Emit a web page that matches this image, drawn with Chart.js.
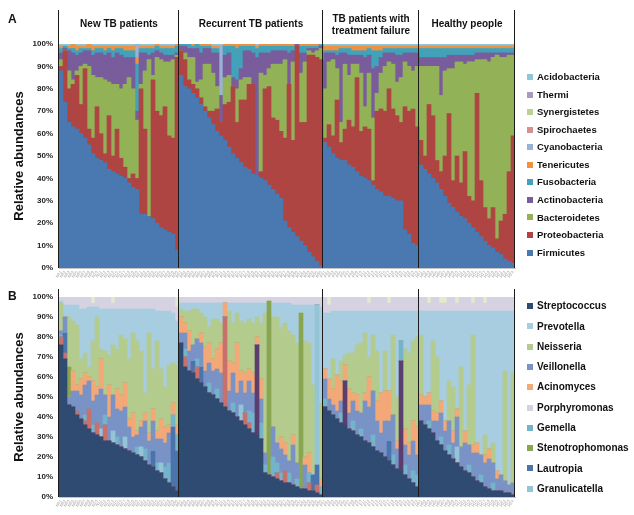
<!DOCTYPE html>
<html>
<head>
<meta charset="utf-8">
<script src="https://cdn.jsdelivr.net/npm/chart.js@4.4.1/dist/chart.umd.min.js"></script>
<style>
  html, body { margin: 0; padding: 0; background: #fff; }
  #wrap { position: relative; width: 634px; height: 515px; }
  canvas { position: absolute; left: 0; }
  #chartA { top: 0; }
  #chartB { top: 284px; }
</style>
</head>
<body>
<div id="wrap">
  <canvas id="chartA" width="634" height="284"></canvas>
  <canvas id="chartB" width="634" height="231"></canvas>
</div>
<script>
// sample groups (bars per group)
const groupNames = ['New TB patients', 'Recurrent TB patients', 'TB patients with\ntreatment failure', 'Healthy people'];
const groupSizes = [30, 36, 24, 24];
const groupCodes = ['N', 'R', 'F', 'H'];

// ---- panel A: phylum level (%), groups: new | recurrent | failure | healthy ----
const firmicutes = [
  88,74,65,63,62,60,58,55,51,49,48,47,44,43,42,41,40,38,36,35,24,24,23,22,20,18,17,16,15,8,
  86,81,80,78,76,73,70,67,64,61,59,57,54,51,49,47,45,44,42,41,40,39,37,35,33,31,21,18,16,14,12,10,7,5,3,1,
  56,54,51,49,48,48,46,45,43,41,40,39,37,35,34,32,32,31,30,30,17,15,11,10,
  46,44,42,40,38,35,32,29,27,25,23,22,20,18,16,14,12,10,9,7,6,4,3,2];
const proteobacteria = [
  2,23,15,19,24,13,31,7,7,23,12,4,24,7,20,8,5,2,6,5,56,38,0,62,50,50,55,43,43,86,
  11,12,4,4,4,3,2,3,6,10,6,16,20,30,16,28,30,38,40,0,3,41,44,32,33,30,37,64,41,85,53,55,88,90,91,92,
  2,10,8,26,8,14,20,18,42,20,23,23,2,35,37,38,48,40,38,35,55,55,60,53,
  11,6,31,28,10,8,18,40,12,25,15,30,12,12,62,25,15,12,18,6,15,20,40,57];
const bacteroidetes = [
  3,0,8,2,2,17,2,28,28,13,25,33,15,32,20,31,37,45,38,26,2,26,70,2,24,25,20,33,35,1,
  0,3,10,12,3,8,19,21,17,10,0,12,12,0,15,9,10,3,0,0,44,6,8,24,25,30,35,0,35,0,22,27,2,1,3,5,
  22,28,34,14,9,29,20,28,6,26,9,25,28,8,16,20,12,20,15,20,20,20,17,27,
  33,40,17,22,42,34,38,20,50,42,54,39,60,62,15,54,66,70,67,82,73,70,52,36];
const actinobacteria = [
  3,1,9,12,7,6,6,7,9,11,11,11,13,12,14,15,12,9,14,4,14,8,2,10,3,3,3,3,2,1,
  2,3,4,4,15,12,7,7,9,15,12,10,10,4,4,5,12,12,14,53,9,10,7,6,6,6,4,14,5,1,9,4,1,2,1,1,
  16,4,3,6,31,5,9,4,4,8,22,8,22,12,7,6,4,5,12,10,4,6,8,6,
  4,4,4,4,4,17,6,6,6,3,3,4,3,3,3,3,3,4,2,1,2,2,1,1];
const fusobacteria = [
  2,1,1,2,2,2,1,1,2,2,2,2,2,3,2,3,3,3,3,21,2,2,3,2,2,2,3,3,3,3,
  1,1,2,1,2,3,1,1,2,2,0,4,3,14,14,10,2,2,3,4,3,3,3,2,2,2,2,3,2,0,3,3,1,1,1,1,
  1,1,1,2,2,2,3,2,2,2,3,3,8,7,3,2,2,2,3,3,2,2,2,2,
  4,4,4,4,4,4,4,3,3,3,3,3,3,3,2,2,2,2,2,2,2,2,2,2];
const tenericutes = [
  1,0,1,2,2,1,1,2,2,1,1,2,1,2,1,1,2,2,2,3,1,1,1,1,1,1,1,1,1,1,
  0,0,0,1,0,1,1,1,1,1,0,1,1,1,2,1,1,1,1,1,1,1,1,1,1,1,1,1,1,0,1,1,1,1,1,0,
  2,2,2,2,1,1,1,2,2,2,2,1,2,2,2,1,1,1,1,1,1,1,1,1,
  1,1,1,1,1,1,1,1,1,1,1,1,1,1,1,1,1,1,1,1,1,1,1,1];
const cyanobacteria = [
  0,0,0,0,0,0,0,0,0,0,0,0,0,0,0,0,0,0,0,6,0,0,0,0,0,0,0,0,0,0,
  0,0,0,0,0,0,0,0,0,0,22,0,0,0,0,0,0,0,0,0,0,0,0,0,0,0,0,0,0,0,0,0,0,0,0,0,
  0,0,0,0,0,0,0,0,0,0,0,0,0,0,0,0,0,0,0,0,0,0,0,0,
  0,0,0,0,0,0,0,0,0,0,0,0,0,0,0,0,0,0,0,0,0,0,0,0];
const spirochaetes = [
  0,0,0,0,0,0,0,0,0,0,0,0,0,0,0,0,0,0,0,0,0,0,0,0,0,0,0,0,0,0,
  0,0,0,0,0,0,0,0,0,0,0,0,0,0,0,0,0,0,0,0,0,0,0,0,0,0,0,0,0,0,0,0,0,0,0,0,
  0,0,0,0,0,0,0,0,0,0,0,0,0,0,0,0,0,0,0,0,0,0,0,0,
  0,0,0,0,0,0,0,0,0,0,0,0,0,0,0,0,0,0,0,0,0,0,0,0];
const synergistetes = [
  0,0,0,0,0,0,0,0,0,0,0,0,0,0,0,0,0,0,0,0,0,0,0,0,0,0,0,0,0,0,
  0,0,0,0,0,0,0,0,0,0,0,0,0,0,0,0,0,0,0,0,0,0,0,0,0,0,0,0,0,0,0,0,0,0,0,0,
  0,0,0,0,0,0,0,0,0,0,0,0,0,0,0,0,0,0,0,0,0,0,0,0,
  0,0,0,0,0,0,0,0,0,0,0,0,0,0,0,0,0,0,0,0,0,0,0,0];
const thermi = [
  0,0,0,0,0,0,0,0,0,0,0,0,0,0,0,0,0,0,0,0,0,0,0,0,0,0,0,0,0,0,
  0,0,0,0,0,0,0,0,0,0,0,0,0,0,0,0,0,0,0,0,0,0,0,0,0,0,0,0,0,0,0,0,0,0,0,0,
  0,0,0,0,0,0,0,0,0,0,0,0,0,0,0,0,0,0,0,0,0,0,0,0,
  0,0,0,0,0,0,0,0,0,0,0,0,0,0,0,0,0,0,0,0,0,0,0,0];
const acidobacteria = [
  1,1,1,0,1,1,1,0,1,1,1,1,1,1,1,1,1,1,1,0,1,1,1,1,0,1,1,1,1,0,
  0,0,0,0,0,0,0,0,1,1,1,0,0,0,0,0,0,0,0,1,0,0,0,0,0,0,0,0,0,0,0,0,0,0,0,0,
  1,1,1,1,1,1,1,1,1,1,1,1,1,1,1,1,1,1,1,1,1,1,1,1,
  1,1,1,1,1,1,1,1,1,1,1,1,1,1,1,1,1,1,1,1,1,1,1,1];

// ---- panel B: genus level (%) ----
const streptococcus = [
  76,69,46,45,41,39,36,34,32,31,30,28,28,27,26,25,24,23,22,21,20,18,16,15,13,12,9,7,5,3,
  77,65,63,62,59,57,55,52,51,49,47,45,43,42,40,38,36,34,32,31,29,12,11,10,9,8,7,7,6,5,4,4,3,3,2,1,
  45,43,41,39,37,36,34,33,31,30,28,27,25,23,22,20,18,16,14,13,11,9,7,5,
  38,36,34,32,28,26,23,21,19,17,15,13,12,10,8,7,5,4,3,3,3,2,2,1];
const otherPurple = [
  0,0,0,0,0,0,0,0,0,0,0,0,0,0,0,0,0,0,0,0,0,0,0,0,0,0,0,0,0,0,
  0,0,0,0,0,0,0,0,0,0,0,0,0,0,0,0,0,0,0,45,0,0,0,0,0,0,0,0,0,0,0,0,0,0,0,0,
  0,0,0,0,0,22,0,0,0,0,0,0,0,0,0,0,0,0,0,55,0,0,0,0,
  0,0,0,0,0,0,0,0,0,0,0,0,0,0,0,0,0,0,0,0,0,0,0,0];
const otherRose = [
  4,3,0,0,2,0,2,10,0,6,0,8,0,0,0,0,0,0,0,0,0,0,0,0,0,0,0,0,0,0,
  0,5,0,0,6,0,0,0,0,0,0,45,0,0,0,0,6,3,0,0,0,0,0,0,3,0,6,0,0,0,0,0,4,0,4,0,
  0,0,0,0,0,0,0,0,0,0,0,0,0,0,0,0,0,0,0,0,0,0,0,0,
  0,0,0,0,0,0,0,0,0,0,0,0,0,0,0,0,0,0,0,0,0,0,0,0];
const lautropia = [
  0,10,0,0,0,0,0,0,0,0,0,0,0,0,0,0,0,0,0,0,0,0,0,8,0,0,0,0,30,20,
  0,0,0,6,0,8,0,0,0,0,0,0,0,0,0,0,0,0,0,0,0,0,0,0,0,0,0,0,0,0,0,0,0,8,10,0,
  0,0,0,0,0,0,0,0,0,0,0,0,0,0,0,0,10,0,0,0,0,0,0,0,
  0,0,0,0,0,0,0,0,0,0,0,0,0,0,0,0,0,0,0,0,0,0,0,0];
const granulicatella = [
  0,0,0,0,0,0,0,0,0,0,4,0,0,6,0,0,6,0,0,0,5,0,0,0,0,5,0,0,0,0,
  0,0,0,0,0,0,0,0,0,0,0,0,0,0,0,8,0,0,0,0,0,0,0,0,0,0,0,0,0,0,0,0,0,0,80,0,
  0,0,0,0,0,0,0,0,0,0,0,0,0,0,0,0,0,0,0,0,0,0,0,0,
  0,0,0,0,0,0,0,0,0,8,0,0,0,0,0,0,0,0,0,0,0,0,0,0];
const gemella = [
  1,0,0,0,0,0,3,0,4,0,0,5,0,0,4,0,0,0,0,4,0,6,0,0,4,0,6,10,6,8,
  0,4,0,0,4,0,0,5,0,5,0,0,0,5,0,0,0,6,10,0,8,4,0,10,5,4,0,5,0,4,0,0,5,0,0,4,
  4,0,0,0,5,0,0,5,0,4,0,0,6,0,0,0,0,5,0,10,5,0,6,6,
  0,0,4,0,0,4,0,5,0,0,0,0,4,0,0,4,0,0,4,0,0,0,0,0];
const veillonella = [
  2,8,4,8,10,12,15,14,12,14,20,10,12,18,14,18,15,12,8,6,10,14,12,15,12,12,12,15,0,0,
  5,8,10,8,10,12,8,10,12,10,15,0,10,15,12,12,10,15,10,0,12,6,0,15,10,12,8,6,20,8,0,12,0,0,0,0,
  10,6,5,4,6,0,8,10,12,8,20,18,22,15,10,18,10,20,10,0,10,12,15,10,
  8,10,8,6,10,12,10,12,8,15,10,14,10,12,14,10,12,15,10,6,8,6,4,6];
const acinomyces = [
  0,0,0,10,3,8,6,2,10,4,15,0,16,0,10,8,12,4,12,2,3,4,4,6,4,10,8,4,6,5,
  8,5,10,0,0,5,12,10,6,10,15,7,15,5,25,5,10,6,10,4,10,0,0,0,0,6,6,0,5,0,0,4,10,0,0,4,
  5,10,8,18,10,8,12,4,8,0,4,15,0,10,20,15,15,0,4,0,8,6,10,14,
  5,4,6,5,4,6,5,0,6,4,0,6,0,4,5,0,4,5,0,4,0,0,0,0];
const stenotrophomonas = [
  0,0,15,0,0,0,0,0,0,0,0,0,0,0,0,0,0,0,0,0,0,0,0,0,0,0,0,0,0,0,
  0,0,0,0,0,0,0,0,0,0,0,0,0,0,0,0,0,0,0,0,0,0,87,0,0,0,0,0,0,0,88,0,0,0,0,0,
  0,0,0,0,0,0,0,0,0,0,0,0,0,0,0,0,0,0,0,0,0,0,0,0,
  0,0,0,0,0,0,0,0,0,0,0,0,0,0,0,0,0,0,0,0,0,0,0,0];
const neisseria = [
  14,0,25,25,30,10,10,5,20,35,5,22,15,25,20,30,22,30,40,45,35,10,50,20,45,25,20,30,20,30,
  4,6,10,18,15,10,15,8,20,15,10,0,25,20,15,25,25,25,25,10,28,70,0,55,63,55,60,65,50,60,0,58,55,45,0,38,
  0,0,15,0,10,5,18,20,25,35,30,10,28,25,0,20,0,40,22,0,40,45,40,45,
  30,0,0,35,28,0,0,20,22,0,40,0,30,55,0,0,10,0,10,0,0,55,0,55];
const prevotella = [
  1,6,6,8,10,25,22,30,17,5,20,21,23,18,20,13,15,25,12,16,21,42,12,30,15,29,38,27,25,22,
  3,4,4,3,3,5,7,12,8,8,10,0,4,10,5,9,10,8,10,7,10,5,0,7,7,12,10,14,15,19,4,18,19,40,0,48,
  28,33,24,32,25,22,21,21,17,16,11,23,12,20,41,20,40,12,43,15,19,21,15,13,
  12,43,41,15,23,45,55,35,38,49,28,60,37,12,66,72,62,69,66,80,82,30,87,31];
const porphyromonas = [
  2,4,4,4,4,6,6,5,2,5,6,6,6,3,6,6,6,6,6,6,6,6,6,6,7,7,7,7,8,7,
  3,3,3,3,3,3,3,3,3,3,3,3,3,3,3,3,3,3,3,3,3,3,2,3,3,3,3,3,4,4,4,4,4,4,4,5,
  8,4,7,7,7,7,7,7,7,7,7,4,7,7,7,7,4,7,7,7,7,7,7,7,
  7,7,4,7,7,4,4,7,7,4,7,7,7,4,7,7,4,7,7,7,7,7,7,7];
const otherCream = [
  0,0,0,0,0,0,0,0,3,0,0,0,0,3,0,0,0,0,0,0,0,0,0,0,0,0,0,0,0,5,
  0,0,0,0,0,0,0,0,0,0,0,0,0,0,0,0,0,0,0,0,0,0,0,0,0,0,0,0,0,0,0,0,0,0,0,0,
  0,4,0,0,0,0,0,0,0,0,0,3,0,0,0,0,3,0,0,0,0,0,0,0,
  0,0,3,0,0,3,3,0,0,3,0,0,0,3,0,0,3,0,0,0,0,0,0,0];

// sample ids for the x axis
const sampleLabels = [];
groupSizes.forEach((n, g) => {
  for (let i = 1; i <= n; i++) sampleLabels.push(groupCodes[g] + String(i).padStart(2, '0'));
});

Chart.defaults.font.family = "'Liberation Sans', Arial, sans-serif";

// stacked bottom -> top
const seriesA = [
  ['Firmicutes', firmicutes, '#4A78B0'],
  ['Proteobacteria', proteobacteria, '#AE4542'],
  ['Bacteroidetes', bacteroidetes, '#93B257'],
  ['Actinobacteria', actinobacteria, '#785C9C'],
  ['Fusobacteria', fusobacteria, '#42A2BA'],
  ['Tenericutes', tenericutes, '#EE9140'],
  ['Cyanobacteria', cyanobacteria, '#9AB2D6'],
  ['Spirochaetes', spirochaetes, '#D3918F'],
  ['Synergistetes', synergistetes, '#BCD294'],
  ['Thermi', thermi, '#A899C0'],
  ['Acidobacteria', acidobacteria, '#8FC6D8']
];
const seriesB = [
  ['Streptococcus', streptococcus, '#2F4B72'],
  ['other-purple', otherPurple, '#5A3F6E'],
  ['other-rose', otherRose, '#C8706C'],
  ['Lautropia', lautropia, '#4C74AC'],
  ['Granulicatella', granulicatella, '#93C5D7'],
  ['Gemella', gemella, '#74B4CB'],
  ['Veillonella', veillonella, '#7A93C6'],
  ['Acinomyces', acinomyces, '#F3A877'],
  ['Stenotrophomonas', stenotrophomonas, '#88A652'],
  ['Neisseria', neisseria, '#B3CB8C'],
  ['Prevotella', prevotella, '#A8CDE0'],
  ['Porphyromonas', porphyromonas, '#D6D2E2'],
  ['other-cream', otherCream, '#E4EBCB']
];
const legendA = ['Acidobacteria', 'Thermi', 'Synergistetes', 'Spirochaetes', 'Cyanobacteria', 'Tenericutes',
  'Fusobacteria', 'Actinobacteria', 'Bacteroidetes', 'Proteobacteria', 'Firmicutes'];
const legendB = ['Streptococcus', 'Prevotella', 'Neisseria', 'Veillonella', 'Acinomyces', 'Porphyromonas',
  'Gemella', 'Stenotrophomonas', 'Lautropia', 'Granulicatella'];

function toDatasets(series) {
  return series.map(s => ({ label: s[0], data: s[1], backgroundColor: s[2], borderWidth: 0, clip: 0 }));
}

function decor(cfg, series) {
  return {
    id: 'decor',
    afterDraw(chart) {
      const { ctx, chartArea, scales: { x } } = chart;
      ctx.save();
      // group dividers
      const edges = [chartArea.left];
      let idx = 0;
      groupSizes.forEach(n => {
        idx += n;
        if (idx < sampleLabels.length) edges.push((x.getPixelForValue(idx - 1) + x.getPixelForValue(idx)) / 2);
        else edges.push(chartArea.right);
      });
      ctx.strokeStyle = '#1b1b1b';
      ctx.lineWidth = 1;
      edges.forEach(px => {
        const xx = Math.round(px) - 0.5;
        ctx.beginPath();
        ctx.moveTo(xx, cfg.lineTop);
        ctx.lineTo(xx, chartArea.bottom);
        ctx.stroke();
      });
      // group headers
      ctx.fillStyle = '#111';
      ctx.textAlign = 'center';
      ctx.textBaseline = 'middle';
      if (cfg.headers) {
        ctx.font = "bold 10px 'Liberation Sans', Arial, sans-serif";
        groupNames.forEach((name, g) => {
          const cx = (edges[g] + edges[g + 1]) / 2;
          const lines = name.split('\n');
          if (lines.length === 1) ctx.fillText(lines[0], cx, 24);
          else { ctx.fillText(lines[0], cx, 19); ctx.fillText(lines[1], cx, 31); }
        });
      }
      // panel letter
      ctx.textAlign = 'left';
      ctx.textBaseline = 'alphabetic';
      ctx.font = "bold 12px 'Liberation Sans', Arial, sans-serif";
      ctx.fillText(cfg.letter, 8, cfg.letterY);
      // legend
      ctx.textBaseline = 'middle';
      ctx.font = 'bold ' + cfg.legendFont + "px 'Liberation Sans', Arial, sans-serif";
      cfg.legend.forEach((name, i) => {
        const y = cfg.legendY0 + i * cfg.legendStep;
        const s = series.find(e => e[0] === name);
        ctx.fillStyle = s[2];
        ctx.fillRect(527, Math.round(y - 3), 6, 6);
        ctx.fillStyle = '#111';
        ctx.fillText(name, 537, y + 0.5);
      });
      ctx.restore();
    }
  };
}

function makeChart(id, series, cfg) {
  return new Chart(document.getElementById(id), {
    type: 'bar',
    data: { labels: sampleLabels, datasets: toDatasets(series) },
    options: {
      responsive: false,
      animation: false,
      layout: { padding: { top: cfg.top, right: 119, left: 0, bottom: 0 } },
      plugins: { legend: { display: false }, tooltip: { enabled: false } },
      datasets: { bar: { categoryPercentage: 1, barPercentage: 1 } },
      scales: {
        x: {
          stacked: true,
          grid: { display: false, drawTicks: false },
          border: { display: true, color: '#c4c4c4' },
          ticks: { autoSkip: false, maxRotation: 55, minRotation: 55, font: { size: 4 }, color: '#9a9a9a', padding: 2 },
          afterFit: s => { s.height = cfg.xh; }
        },
        y: {
          stacked: true,
          min: 0,
          max: 100,
          grid: { display: false, drawTicks: false },
          border: { display: false },
          ticks: { stepSize: 10, callback: v => v + '%', font: { size: 8, weight: 'bold' }, color: '#222', padding: 6 },
          title: { display: true, text: 'Relative abundances', font: { size: 13, weight: 'bold' }, color: '#111', padding: { top: 12, bottom: 0 } },
          afterFit: s => { s.width = 59; }
        }
      }
    },
    plugins: [decor(cfg, series)]
  });
}

makeChart('chartA', seriesA, {
  top: 44, xh: 16, lineTop: 10, headers: true, letter: 'A', letterY: 23,
  legend: legendA, legendY0: 77, legendStep: 17.56, legendFont: 9.5
});
makeChart('chartB', seriesB, {
  top: 13, xh: 18, lineTop: 5, headers: false, letter: 'B', letterY: 16,
  legend: legendB, legendY0: 22, legendStep: 20.3, legendFont: 10
});
</script>
</body>
</html>
